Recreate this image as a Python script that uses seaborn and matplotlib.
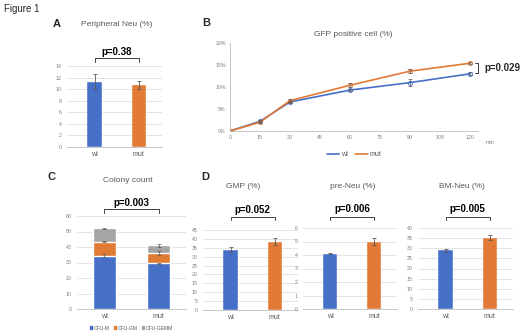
import numpy as np
import pandas as pd
import matplotlib
matplotlib.use('Agg')
import matplotlib.pyplot as plt
import seaborn as sns
from matplotlib.patches import Patch

# ---------------- data ----------------
groups = ['wt', 'mut']
periph_mean = [11.3, 10.7]
periph_err = [1.3, 0.7]

times = [0, 15, 30, 60, 90, 120]
gfp_wt = [0.0, 2.2, 6.6, 9.3, 11.0, 13.0]
gfp_mut = [0.0, 2.0, 6.9, 10.4, 13.6, 15.4]
gfp_wt_err = [0.0, 0.2, 0.3, 0.3, 0.8, 0.3]
gfp_mut_err = [0.0, 0.2, 0.3, 0.4, 0.5, 0.2]

cfu_types = ['CFU-M', 'CFU-GM', 'CFU-GEMM']
cfu_m = [34.5, 29.5]
cfu_gm = [9.0, 6.5]
cfu_gemm = [8.5, 5.0]
cfu_m_err = [1.2, 0.4]
cfu_gm_err = [0.5, 1.2]
cfu_gemm_err = [0.5, 0.8]

gmp_mean = [34.0, 38.5]
gmp_err = [1.5, 1.8]
preneu_mean = [4.1, 5.0]
preneu_err = [0.06, 0.25]
bmneu_mean = [29.0, 35.2]
bmneu_err = [0.8, 1.3]

p_values = {'A': 'p=0.38', 'B': 'p=0.029', 'C': 'p=0.003',
            'GMP': 'p=0.052', 'pre': 'p=0.006', 'BM': 'p=0.005'}

BLUE = '#4670C8'
ORANGE = '#E07A34'
GRAY = '#A5A5A5'
TXT = '#595959'
GRID = '#D9D9D9'
ERR = '#5A5A5A'

sns.set_theme(style='white')
plt.rcParams['font.family'] = ['Liberation Sans', 'DejaVu Sans']

W, H = 520, 336
fig = plt.figure(figsize=(W / 100, H / 100), dpi=100)
fig.patch.set_facecolor('white')


def px_axes(l, t, r, b):
    return fig.add_axes([l / W, 1 - b / H, (r - l) / W, (b - t) / H])


def style_ax(ax, ylim, yticks, fmt=None):
    ax.set_ylim(*ylim)
    ax.set_yticks(yticks)
    if fmt:
        ax.set_yticklabels([fmt(v) for v in yticks])
    ax.yaxis.grid(True, color=GRID, lw=0.5)
    ax.set_axisbelow(True)
    for s in ['top', 'right', 'left']:
        ax.spines[s].set_visible(False)
    ax.spines['bottom'].set_color('#BFBFBF')
    ax.spines['bottom'].set_linewidth(0.6)
    ax.tick_params(axis='y', length=0, labelsize=3.8, labelcolor='#7F7F7F', pad=4)
    ax.tick_params(axis='x', length=0, labelsize=5, labelcolor=TXT, pad=3)
    ax.set_xlabel('')
    ax.set_ylabel('')


def bracket(ax, text, top, leg, ty):
    tr = ax.get_xaxis_transform()
    ax.plot([0, 0, 1, 1], [leg, top, top, leg], color='#404040', lw=0.7,
            transform=tr, clip_on=False)
    ax.text(0.5, ty, text, transform=tr, ha='center', va='center',
            fontsize=7, fontweight='bold', color='black')


def simple_bar(ax, means, errs):
    df = pd.DataFrame({'group': groups, 'value': means})
    sns.barplot(data=df, x='group', y='value', hue='group', order=groups,
                palette={'wt': BLUE, 'mut': ORANGE}, width=0.33,
                legend=False, ax=ax, errorbar=None, saturation=1,
                edgecolor='white', linewidth=0.3)
    ax.errorbar([0, 1], means, yerr=errs, fmt='none', ecolor=ERR,
                elinewidth=0.6, capsize=1.5, capthick=0.6)
    ax.set_xlim(-0.62, 1.52)


# ---------------- texts ----------------
fig.text(4 / W, 1 - 9 / H, 'Figure 1', fontsize=7, va='center', ha='left')
for lab, x, y in [('A', 53, 24), ('B', 202, 23), ('C', 47, 177), ('D', 201, 177)]:
    fig.text(x / W, 1 - y / H, lab, fontsize=8, fontweight='bold', va='center')

# ---------------- A ----------------
axA = px_axes(67, 66, 162, 147)
simple_bar(axA, periph_mean, periph_err)
style_ax(axA, (0, 14), np.arange(0, 15, 2))
fig.text(117 / W, 1 - 24 / H, 'Peripheral Neu (%)', fontsize=6, color=TXT,
         ha='center', va='center')
bracket(axA, p_values['A'], 1.10, 1.05, 1.17)

# ---------------- B ----------------
axB = px_axes(230, 43, 478, 131)
dfB = pd.DataFrame({'time': times * 2,
                    'value': gfp_wt + gfp_mut,
                    'group': ['wt'] * len(times) + ['mut'] * len(times)})
sns.lineplot(data=dfB, x='time', y='value', hue='group', hue_order=groups,
             palette={'wt': BLUE, 'mut': ORANGE}, lw=1.2, ax=axB,
             marker='o', markersize=3, markerfacecolor='none',
             markeredgewidth=0.6, errorbar=None)
for i, c in enumerate(axB.lines[:2]):
    c.set_markeredgecolor([BLUE, ORANGE][i])
axB.errorbar(times, gfp_wt, yerr=gfp_wt_err, fmt='none', ecolor=ERR,
             elinewidth=0.5, capsize=1.5, capthick=0.5)
axB.errorbar(times, gfp_mut, yerr=gfp_mut_err, fmt='none', ecolor=ERR,
             elinewidth=0.5, capsize=1.5, capthick=0.5)
axB.set_xlim(0, 124)
axB.set_ylim(0, 20)
axB.set_xticks(np.arange(0, 121, 15))
axB.set_yticks(np.arange(0, 21, 5))
axB.set_yticklabels([f'{v}%' for v in range(0, 21, 5)])
for s in ['top', 'right']:
    axB.spines[s].set_visible(False)
for s in ['left', 'bottom']:
    axB.spines[s].set_color('#BFBFBF')
    axB.spines[s].set_linewidth(0.6)
axB.tick_params(length=0, labelsize=3.8, labelcolor='#7F7F7F', pad=3)
axB.set_xlabel('')
axB.set_ylabel('')
axB.legend(loc='upper center', bbox_to_anchor=(0.5, -0.16), ncol=2,
           frameon=False, fontsize=5, handlelength=1.8, columnspacing=1.0,
           handletextpad=0.3, labelcolor=TXT)
for h in axB.get_legend().legend_handles:
    h.set_marker('')
fig.text(486 / W, 1 - 142 / H, 'min', fontsize=4, color='#7F7F7F', va='center')
fig.text(353 / W, 1 - 34 / H, 'GFP positive cell (%)', fontsize=6, color=TXT,
         ha='center', va='center')
axB.plot([475 / W, 478 / W, 478 / W, 475 / W], [1 - 63 / H, 1 - 63 / H, 1 - 73 / H, 1 - 73 / H],
         color='#404040', lw=0.7, transform=fig.transFigure, clip_on=False)
fig.text(484 / W, 1 - 68 / H, p_values['B'], fontsize=7, fontweight='bold',
         va='center', ha='left')

# ---------------- C ----------------
axC = px_axes(77, 216, 186, 309)
lvl1 = np.array(cfu_m)
lvl2 = lvl1 + np.array(cfu_gm)
lvl3 = lvl2 + np.array(cfu_gemm)
for vals, col in [(lvl3, GRAY), (lvl2, ORANGE), (lvl1, BLUE)]:
    dfc = pd.DataFrame({'group': groups, 'value': vals})
    sns.barplot(data=dfc, x='group', y='value', order=groups, color=col,
                width=0.42, ax=axC, errorbar=None, saturation=1)
for vals, errs in [(lvl1, cfu_m_err), (lvl2, cfu_gm_err), (lvl3, cfu_gemm_err)]:
    axC.errorbar([0, 1], vals, yerr=errs, fmt='none', ecolor=ERR,
                 elinewidth=0.5, capsize=1.2, capthick=0.5)
axC.set_xlim(-0.5, 1.5)
style_ax(axC, (0, 60), np.arange(0, 61, 10))
fig.text(128 / W, 1 - 180 / H, 'Colony count', fontsize=6, color=TXT,
         ha='center', va='center')
bracket(axC, p_values['C'], 1.075, 1.03, 1.14)
handles = [Patch(color=c) for c in [BLUE, ORANGE, GRAY]]
axC.legend(handles, cfu_types, loc='upper center', bbox_to_anchor=(0.5, -0.13),
           ncol=3, frameon=False, fontsize=3.6, handlelength=0.5,
           handleheight=0.5, handletextpad=0.3, columnspacing=0.8,
           labelcolor=TXT)

# ---------------- D ----------------
axG = px_axes(203, 230, 298, 310)
simple_bar(axG, gmp_mean, gmp_err)
style_ax(axG, (0, 45), np.arange(0, 46, 5))
fig.text(243 / W, 1 - 186 / H, 'GMP (%)', fontsize=6, color=TXT, ha='center', va='center')
bracket(axG, p_values['GMP'], 1.16, 1.12, 1.25)

axP = px_axes(303, 228, 397, 309)
simple_bar(axP, preneu_mean, preneu_err)
style_ax(axP, (0, 6), np.arange(0, 7, 1))
fig.text(353 / W, 1 - 186 / H, 'pre-Neu (%)', fontsize=6, color=TXT, ha='center', va='center')
bracket(axP, p_values['pre'], 1.14, 1.10, 1.23)

axM = px_axes(418, 228, 513, 309)
simple_bar(axM, bmneu_mean, bmneu_err)
style_ax(axM, (0, 40), np.arange(0, 41, 5))
fig.text(462 / W, 1 - 186 / H, 'BM-Neu (%)', fontsize=6, color=TXT, ha='center', va='center')
bracket(axM, p_values['BM'], 1.14, 1.10, 1.23)

fig.savefig('out.png', dpi=100)
